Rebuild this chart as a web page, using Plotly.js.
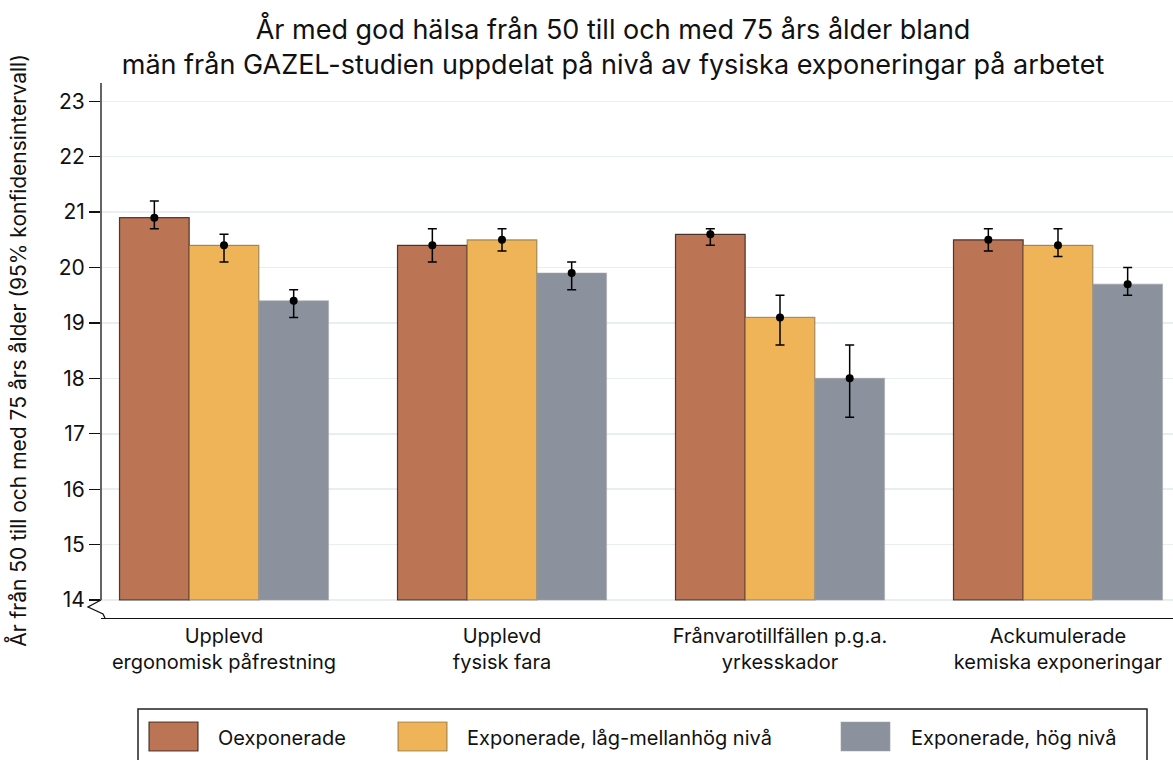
<!DOCTYPE html>
<html>
<head>
<meta charset="utf-8">
<script src="https://cdn.plot.ly/plotly-3.0.1.min.js"></script>
<style>html,body{margin:0;padding:0;background:#fff;}#chart{width:1173px;height:760px;}</style>
</head>
<body>
<div id="chart"></div>
<script>
// ---- Data ----
const categories = [
  "Upplevd<br>ergonomisk påfrestning",
  "Upplevd<br>fysisk fara",
  "Frånvarotillfällen p.g.a.<br>yrkesskador",
  "Ackumulerade<br>kemiska exponeringar"
];
const seriesNames = ["Oexponerade", "Exponerade, låg-mellanhög nivå", "Exponerade, hög nivå"];
const oexp      = [20.9, 20.4, 20.6, 20.5];
const oexpLow   = [20.7, 20.1, 20.4, 20.3];
const oexpHigh  = [21.2, 20.7, 20.7, 20.7];
const lagMed    = [20.4, 20.5, 19.1, 20.4];
const lagMedLow = [20.1, 20.3, 18.6, 20.2];
const lagMedHigh= [20.6, 20.7, 19.5, 20.7];
const hog       = [19.4, 19.9, 18.0, 19.7];
const hogLow    = [19.1, 19.6, 17.3, 19.5];
const hogHigh   = [19.6, 20.1, 18.6, 20.0];
const yTicks = [14, 15, 16, 17, 18, 19, 20, 21, 22, 23];
const BASE = 14;

// ---- Styles ----
const colors = ["#bb7454", "#eeb457", "#8b929e"];
const lineColors = ["rgba(40,25,20,0.8)", "rgba(90,80,60,0.55)", "rgba(160,160,160,0.5)"];
const FONT = "Inter, Liberation Sans, Arial, sans-serif";
const BAR_W = 0.2506;

const series = [
  {v: oexp, lo: oexpLow, hi: oexpHigh},
  {v: lagMed, lo: lagMedLow, hi: lagMedHigh},
  {v: hog, lo: hogLow, hi: hogHigh}
];
const xIdx = categories.map((c, i) => i);

const traces = [];
series.forEach((s, k) => {
  traces.push({
    type: "bar", name: seriesNames[k], x: xIdx,
    y: s.v.map(v => v - BASE), base: BASE,
    marker: {color: colors[k], line: {color: lineColors[k], width: 1.2}},
    showlegend: false, hoverinfo: "skip"
  });
});
series.forEach((s, k) => {
  traces.push({
    type: "scatter", mode: "markers", name: seriesNames[k],
    x: xIdx.map(i => i + (k - 1) * BAR_W), y: s.v,
    marker: {color: "black", size: 8},
    error_y: {type: "data", symmetric: false,
      array: s.hi.map((h, i) => h - s.v[i]),
      arrayminus: s.v.map((v, i) => v - s.lo[i]),
      color: "black", thickness: 1.5, width: 4.5},
    showlegend: false, hoverinfo: "skip"
  });
});

// Manual legend (large swatches like the reference)
const PX = px => (px - 101) / 1072;     // pixel -> paper x
const plotH = 618 - 83;
const py2paper = py => (618 - py) / plotH;
const legendShapes = [];
const legendAnn = [];
const swatchX = [149, 398, 841];
const textX = [216, 465, 909];
legendShapes.push({type: "rect", xref: "paper", yref: "paper",
  x0: PX(138), x1: PX(1147), y0: py2paper(775), y1: py2paper(709),
  line: {color: "#222", width: 1.5}, fillcolor: "rgba(0,0,0,0)"});
seriesNames.forEach((n, k) => {
  legendShapes.push({type: "rect", xref: "paper", yref: "paper",
    x0: PX(swatchX[k]), x1: PX(swatchX[k] + 49), y0: py2paper(751), y1: py2paper(722),
    line: {color: lineColors[k], width: 1.2}, fillcolor: colors[k]});
  legendAnn.push({xref: "paper", yref: "paper", x: PX(textX[k]), y: py2paper(738),
    xanchor: "left", yanchor: "middle", text: n, showarrow: false,
    font: {family: FONT, size: 20, color: "#111"}});
});

// y axis line with break symbol
const axisShapes = [
  {type: "line", xref: "paper", yref: "y", x0: 0, x1: 0, y0: BASE, y1: 23.33,
   line: {color: "#111", width: 1.3}},
  {type: "path", xref: "paper", yref: "y",
   path: `M 0,14 L ${PX(88)},${14 - 7/55.44} L ${PX(103)},${14 - 14/55.44} L ${PX(105)},${14 - 18/55.44}`,
   line: {color: "#111", width: 1.3}}
];

const layout = {
  width: 1173, height: 760,
  margin: {l: 101, r: 0, t: 83, b: 142},
  paper_bgcolor: "white", plot_bgcolor: "white",
  font: {family: FONT, size: 20, color: "#111"},
  title: {
    text: "År med god hälsa från 50 till och med 75 års ålder bland<br>män från GAZEL-studien uppdelat på nivå av fysiska exponeringar på arbetet",
    font: {family: FONT, size: 27, color: "#111"},
    x: 613 / 1173, xref: "container", xanchor: "center",
    y: 1 - 39 / 760, yref: "container", yanchor: "top"
  },
  barmode: "group", bargap: 1 - 3 * BAR_W, bargroupgap: 0,
  xaxis: {
    range: [-0.4425, 3.4137], tickvals: xIdx, ticktext: categories,
    showgrid: false, zeroline: false, showline: true, linecolor: "#111", linewidth: 1.3,
    ticks: "", tickfont: {family: FONT, size: 20, color: "#111"}
  },
  yaxis: {
    range: [14 - 18 / 55.44, 23.33], tickvals: yTicks, ticktext: yTicks.map(String),
    showgrid: true, gridcolor: "#e8eef2", gridwidth: 1.5, zeroline: false, showline: false,
    ticks: "outside", ticklen: 11, tickcolor: "#111", tickwidth: 1.3,
    tickfont: {family: FONT, size: 21, color: "#111"},
    title: {text: "År från 50 till och med 75 års ålder (95% konfidensintervall)",
      font: {family: FONT, size: 21, color: "#111"}, standoff: 26}
  },
  shapes: axisShapes.concat(legendShapes),
  annotations: legendAnn,
  showlegend: false
};

Plotly.newPlot("chart", traces, layout, {displayModeBar: false, staticPlot: true});
</script>
</body>
</html>
